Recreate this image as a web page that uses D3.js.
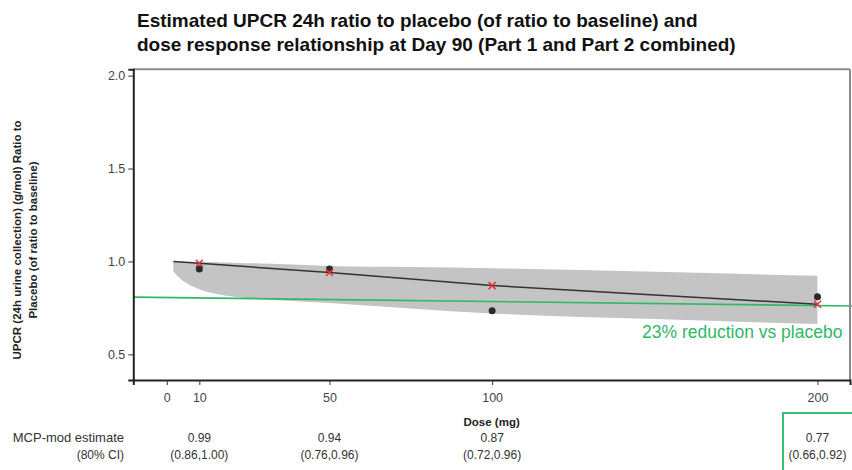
<!DOCTYPE html>
<html lang="en">
<head>
    <meta charset="UTF-8">
    <title>UPCR dose response</title>
    <style>
        body { margin: 0; background: #fff; overflow: hidden; }
        text { font-family: "Liberation Sans", Arial, sans-serif; }
    </style>
</head>
<body>
    <svg id="chart" width="852" height="470"></svg>
    <script src="https://cdn.jsdelivr.net/npm/d3@7"></script>
    <script>
        // tick values
        const doseTicks = [0, 10, 50, 100, 200];
        const ratioTicks = [0.5, 1.0, 1.5, 2.0];

        // shaded band
        const bandDose = [2, 4, 8, 15, 22, 32, 50, 75, 100, 150, 200];
        const bandLow = [0.946, 0.91, 0.865, 0.826, 0.807, 0.794, 0.776, 0.747, 0.72, 0.69, 0.663];
        const bandHigh = [1.0, 0.999, 0.998, 0.995, 0.992, 0.988, 0.976, 0.97, 0.963, 0.944, 0.923];

        // MCP-mod fitted curve
        const curveDose = [2, 10, 30, 50, 75, 100, 150, 200];
        const curveVal = [1.0, 0.99, 0.965, 0.94, 0.905, 0.87, 0.82, 0.77];

        // per dose estimates and observed means
        const estDose = [10, 50, 100, 200];
        const estimate = [0.99, 0.94, 0.87, 0.77];
        const ciLabel = ["(0.86,1.00)", "(0.76,0.96)", "(0.72,0.96)", "(0.66,0.92)"];
        const observed = [0.96, 0.96, 0.735, 0.81];

        // green annotation line
        const refDose = [-10.3, 212];
        const refVal = [0.808, 0.76];

        const svg = d3.select("#chart");
        const x = d3.scaleLinear().domain([-10.3, 210]).range([133.3, 850]);
        const y = d3.scaleLinear().domain([0.362, 2.034]).range([380, 69.3]);

        // title
        const title = svg.append("text")
            .attr("font-size", 19).attr("font-weight", "bold").attr("fill", "#111");
        title.append("tspan").attr("x", 137).attr("y", 27)
            .text("Estimated UPCR 24h ratio to placebo (of ratio to baseline) and");
        title.append("tspan").attr("x", 137).attr("y", 51)
            .text("dose response relationship at Day 90 (Part 1 and Part 2 combined)");

        // band
        const band = bandDose.map((d, i) => ({ d: d, lo: bandLow[i], hi: bandHigh[i] }));
        svg.append("path")
            .datum(band)
            .attr("fill", "#c4c4c4")
            .attr("d", d3.area()
                .x(p => x(p.d))
                .y0(p => y(p.lo))
                .y1(p => y(p.hi))
                .curve(d3.curveMonotoneX));

        // green reference line
        svg.append("line")
            .attr("x1", x(refDose[0])).attr("y1", y(refVal[0]))
            .attr("x2", 852).attr("y2", y(refVal[0] + (refVal[1] - refVal[0]) * (x.invert(852) - refDose[0]) / (refDose[1] - refDose[0])))
            .attr("stroke", "#2fb868").attr("stroke-width", 1.6);

        // fitted curve
        svg.append("path")
            .datum(curveDose.map((d, i) => [d, curveVal[i]]))
            .attr("fill", "none")
            .attr("stroke", "#333")
            .attr("stroke-width", 1.5)
            .attr("d", d3.line().x(p => x(p[0])).y(p => y(p[1])));

        // observed points
        svg.selectAll(".obs")
            .data(estDose.map((d, i) => [d, observed[i]]))
            .enter().append("circle")
            .attr("class", "obs")
            .attr("cx", p => x(p[0])).attr("cy", p => y(p[1]))
            .attr("r", 3.5).attr("fill", "#2a2a2a");

        // estimate crosses
        svg.selectAll(".est")
            .data(estDose.map((d, i) => [d, estimate[i]]))
            .enter().append("path")
            .attr("class", "est")
            .attr("transform", p => "translate(" + x(p[0]) + "," + y(p[1]) + ")")
            .attr("d", "M-3.5,-3.5L3.5,3.5M-3.5,3.5L3.5,-3.5")
            .attr("stroke", "#e53232").attr("stroke-width", 1.5);

        // frame: top and right in grey
        svg.append("line").attr("x1", 133.3).attr("x2", 850).attr("y1", 69.3).attr("y2", 69.3)
            .attr("stroke", "#8a8a8a").attr("stroke-width", 2);
        svg.append("line").attr("x1", 850).attr("x2", 850).attr("y1", 69.3).attr("y2", 380)
            .attr("stroke", "#8a8a8a").attr("stroke-width", 2);

        // axes
        const yAxis = svg.append("g")
            .attr("transform", "translate(133.3,0)")
            .call(d3.axisLeft(y).tickValues(ratioTicks).tickFormat(d3.format(".1f")).tickSize(5).tickPadding(3));
        const xAxis = svg.append("g")
            .attr("transform", "translate(0,380)")
            .call(d3.axisBottom(x).tickValues(doseTicks).tickSize(5).tickPadding(8));
        [yAxis, xAxis].forEach(g => {
            g.select(".domain").attr("stroke", "#222").attr("stroke-width", 2);
            g.selectAll(".tick line").attr("stroke", "#333");
            g.selectAll(".tick text").attr("font-size", 12.5).attr("fill", "#444")
                .attr("font-family", "'Liberation Sans', Arial, sans-serif");
        });

        // y label
        const ylab = svg.append("text")
            .attr("transform", "translate(21,240) rotate(-90)")
            .attr("text-anchor", "middle")
            .attr("font-size", 11.5).attr("font-weight", "bold").attr("fill", "#222");
        ylab.append("tspan").attr("x", 0).attr("y", 0)
            .text("UPCR (24h urine collection) (g/mol) Ratio to");
        ylab.append("tspan").attr("x", 0).attr("y", 16)
            .text("Placebo (of ratio to baseline)");

        // x label
        svg.append("text")
            .attr("x", (133.3 + 850) / 2).attr("y", 426)
            .attr("text-anchor", "middle")
            .attr("font-size", 11.5).attr("font-weight", "bold").attr("fill", "#222")
            .text("Dose (mg)");

        // annotation text
        svg.append("text")
            .attr("x", 642).attr("y", 338)
            .attr("font-family", "Lato, 'Open Sans', sans-serif")
            .attr("font-size", 17.5).attr("fill", "#2fb868")
            .text("23% reduction vs placebo");

        // table under the axis
        svg.append("text").attr("x", 124).attr("y", 442).attr("text-anchor", "end")
            .attr("font-size", 13).attr("fill", "#333").text("MCP-mod estimate");
        svg.append("text").attr("x", 124).attr("y", 459).attr("text-anchor", "end")
            .attr("font-size", 12).attr("fill", "#333").text("(80% CI)");
        estDose.forEach((d, i) => {
            svg.append("text").attr("x", x(d)).attr("y", 442).attr("text-anchor", "middle")
                .attr("font-size", 12).attr("fill", "#333").text(estimate[i].toFixed(2));
            svg.append("text").attr("x", x(d)).attr("y", 459).attr("text-anchor", "middle")
                .attr("font-size", 12).attr("fill", "#333").text(ciLabel[i]);
        });

        // highlight box for the 200 mg column
        svg.append("rect")
            .attr("x", 783).attr("y", 413).attr("width", 80).attr("height", 70)
            .attr("fill", "none").attr("stroke", "#3cbf6f").attr("stroke-width", 2);
    </script>
</body>
</html>
